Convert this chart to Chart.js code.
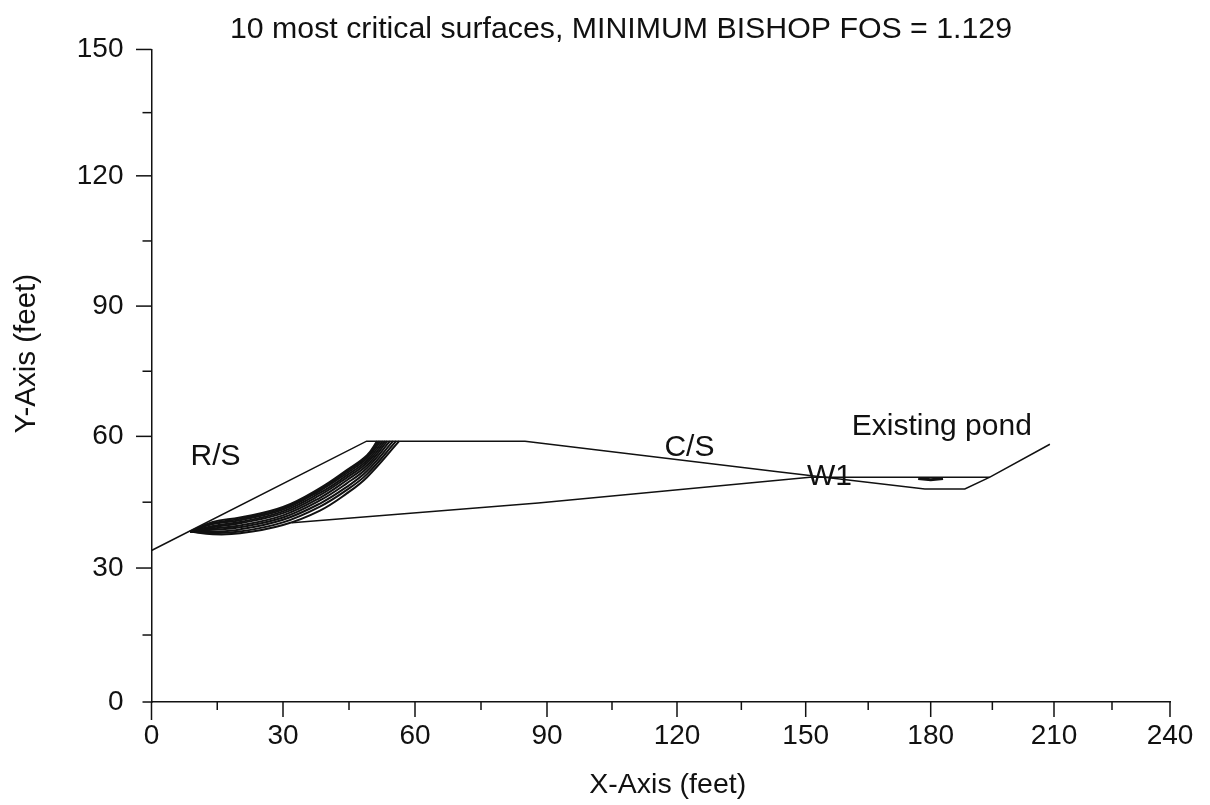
<!DOCTYPE html>
<html>
<head>
<meta charset="utf-8">
<style>
html,body{margin:0;padding:0;background:#fff;overflow:hidden;width:1210px;height:805px}
canvas{display:block}
</style>
<script src="https://cdn.jsdelivr.net/npm/chart.js@4/dist/chart.umd.js"></script>
</head>
<body>
<canvas id="c" width="1242" height="805"></canvas>
<script>
const titleText = '10 most critical surfaces, MINIMUM BISHOP FOS = 1.129';
const xTitle = 'X-Axis (feet)';
const yTitle = 'Y-Axis (feet)';

const xTickValues = [0, 30, 60, 90, 120, 150, 180, 210, 240];
const yTickValues = [0, 30, 60, 90, 120, 150];

const groundSurface = [[0,34],[49,58.9],[85,58.9],[144,51.9],[178.6,48],[188.3,48],[194.4,50.7],[209,58.2]];
const foundationLine = [[32,40.3],[88,44.8],[151,50.7],[194.4,50.7]];
const pondMark = [[177,50.4],[180,50.1],[183,50.4]];

const slip1  = [[8.8,38.3],[14,40.5],[20.2,41.5],[30,43.9],[38.4,48.2],[44.5,52.3],[49.1,55.7],[51.4,58.9]];
const slip2  = [[8.8,38.3],[14,40.2],[20.2,41.2],[30,43.6],[38.4,47.9],[44.5,52.0],[49.1,55.4],[51.8,58.9]];
const slip3  = [[8.8,38.3],[14,40.0],[20.2,40.9],[30,43.3],[38.4,47.6],[44.5,51.6],[49.1,55.0],[52.2,58.9]];
const slip4  = [[8.8,38.3],[14,39.6],[20.2,40.5],[30,42.9],[38.4,47.1],[44.5,51.1],[49.1,54.5],[52.7,58.9]];
const slip5  = [[8.8,38.3],[14,39.3],[20.2,40.2],[30,42.5],[38.4,46.6],[44.5,50.6],[49.1,54.0],[53.2,58.9]];
const slip6  = [[8.8,38.3],[14,39.0],[20.2,39.7],[30,42.0],[38.4,46.0],[44.5,50.0],[49.1,53.4],[53.7,58.9]];
const slip7  = [[8.8,38.3],[14,38.7],[20.2,39.3],[30,41.5],[38.4,45.4],[44.5,49.3],[49.1,52.8],[54.3,58.9]];
const slip8  = [[8.8,38.3],[14,38.3],[20.2,38.8],[30,41.0],[38.4,44.7],[44.5,48.5],[49.1,52.1],[55.0,58.9]];
const slip9  = [[8.8,38.3],[14,38.0],[20.2,38.3],[30,40.4],[38.4,44.0],[44.5,47.8],[49.1,51.4],[55.7,58.9]];
const slip10 = [[8.8,38.3],[14,37.7],[20.2,37.9],[30,39.8],[38.4,43.1],[44.5,47.0],[49.1,50.7],[56.4,58.9]];
const slipSurfaces = [slip1,slip2,slip3,slip4,slip5,slip6,slip7,slip8,slip9,slip10];

const labelTexts = ['R/S','C/S','W1','Existing pond'];
const labelX = [14.6, 122.9, 155.7, 182.7];
const labelY = [55.3, 57.5, 50.7, 62.3];

const INK = '#111';
const FONT = '"Liberation Sans", Arial, sans-serif';

/* The reference's axes are slightly unevenly spaced, so the scale maps values
   through the tick spacing measured on the picture. */
class MeasuredScale extends Chart.LinearScale {
  static id = 'measured';
  static defaults = Chart.LinearScale.defaults;
  _off(v){
    const {knotValues:kv, knotOffsets:ko} = this.options;
    let i = 0;
    while (i < kv.length - 2 && v > kv[i+1]) i++;
    return ko[i] + (v - kv[i]) / (kv[i+1] - kv[i]) * (ko[i+1] - ko[i]);
  }
  getPixelForValue(v){
    const ko = this.options.knotOffsets, total = ko[ko.length-1];
    const f = this._off(v) / total;
    return this.isHorizontal() ? this.left + f * this.width : this.bottom - f * this.height;
  }
  getValueForPixel(p){
    const {knotValues:kv, knotOffsets:ko} = this.options, total = ko[ko.length-1];
    const o = (this.isHorizontal() ? (p - this.left) / this.width : (this.bottom - p) / this.height) * total;
    let i = 0;
    while (i < ko.length - 2 && o > ko[i+1]) i++;
    return kv[i] + (o - ko[i]) / (ko[i+1] - ko[i]) * (kv[i+1] - kv[i]);
  }
  drawTitle(){
    const shift = (this.options.titleShift || 0) * 2;
    const key = this.isHorizontal() ? 'right' : 'bottom';
    const keep = this[key];
    this[key] = this.isHorizontal() ? keep + shift : keep - shift;
    super.drawTitle();
    this[key] = keep;
  }
}
Chart.register(MeasuredScale);

const toPoints = a => a.map(p => ({x:p[0], y:p[1]}));
const lineSet = (label, arr, width, curved) => ({
  label, data: toPoints(arr), borderColor: INK, borderWidth: width,
  pointRadius: 0, showLine: true, fill: false,
  tension: curved ? 0.4 : 0
});

const tickPlugin = {
  id: 'axisTicks',
  afterDraw(chart){
    const {ctx, scales:{x, y}} = chart;
    ctx.save();
    ctx.strokeStyle = INK; ctx.lineWidth = 1.5;
    x.ticks.forEach(t => {
      const px = x.getPixelForValue(t.value);
      const len = t.value % 30 ? 8 : (t.value === 0 ? 18 : 15);
      ctx.beginPath(); ctx.moveTo(px, x.top); ctx.lineTo(px, x.top + len); ctx.stroke();
    });
    y.ticks.forEach(t => {
      const py = y.getPixelForValue(t.value);
      const len = (t.value % 30 === 0 && t.value !== 0) ? 15.5 : 9;
      ctx.beginPath(); ctx.moveTo(y.right, py); ctx.lineTo(y.right - len, py); ctx.stroke();
    });
    ctx.restore();
  }
};

const textPlugin = {
  id: 'profileLabels',
  afterDatasetsDraw(chart){
    const {ctx, scales:{x, y}} = chart;
    ctx.save();
    ctx.fillStyle = INK;
    ctx.font = '30px ' + FONT;
    ctx.textAlign = 'center';
    ctx.textBaseline = 'middle';
    labelTexts.forEach((s, i) => ctx.fillText(s, x.getPixelForValue(labelX[i]), y.getPixelForValue(labelY[i])));
    ctx.restore();
  }
};

const axisBase = {
  grid: {display:true, drawOnChartArea:false, drawTicks:true, tickLength:15, tickColor:'transparent'},
  border: {display:true, color:INK, width:1.5}
};
const tickLabel = v => (v % 30 === 0 ? String(v) : '');

new Chart(document.getElementById('c'), {
  type: 'scatter',
  data: { datasets: [
    lineSet('Ground surface', groundSurface, 1.5, false),
    lineSet('Foundation', foundationLine, 1.5, false),
    lineSet('Pond mark', pondMark, 3, false),
    ...slipSurfaces.map((s, i) => lineSet('Surface ' + (i+1), s, 2, true))
  ]},
  options: {
    responsive: false, animation: false,
    layout: {padding: 0},
    plugins: {
      legend: {display:false}, tooltip: {enabled:false},
      title: {display:true, text:titleText, color:INK, font:{family:FONT, size:30.3, weight:'normal'},
              padding:{top:11, bottom:2.1}}
    },
    scales: {
      x: {
        ...axisBase, type:'measured', min:0, max:240,
        knotValues: xTickValues, knotOffsets: [0,131.5,263.5,395.5,525.5,654.2,779.2,902.5,1018.5], titleShift: 7,
        ticks: {stepSize:15, autoSkip:false, maxRotation:0, minRotation:0, padding:2, color:INK,
                font:{family:FONT, size:28}, callback:tickLabel},
        title: {display:true, text:xTitle, color:INK, font:{family:FONT, size:28.5}, padding:{top:0, bottom:3}},
        afterFit(s){ s.height = 103; s.paddingRight = 72; s.paddingLeft = 0; }
      },
      y: {
        ...axisBase, type:'measured', min:0, max:150,
        knotValues: yTickValues, knotOffsets: [0,134,265.7,396,526.3,652.7], titleShift: 22,
        ticks: {stepSize:15, autoSkip:false, padding:13, color:INK,
                font:{family:FONT, size:28}, callback:tickLabel},
        title: {display:true, text:yTitle, color:INK, font:{family:FONT, size:29.5}, padding:{top:9, bottom:0}},
        afterFit(s){ s.width = 151.5; s.paddingTop = 0; s.paddingBottom = 0; }
      }
    }
  },
  plugins: [tickPlugin, textPlugin]
});
</script>
</body>
</html>
